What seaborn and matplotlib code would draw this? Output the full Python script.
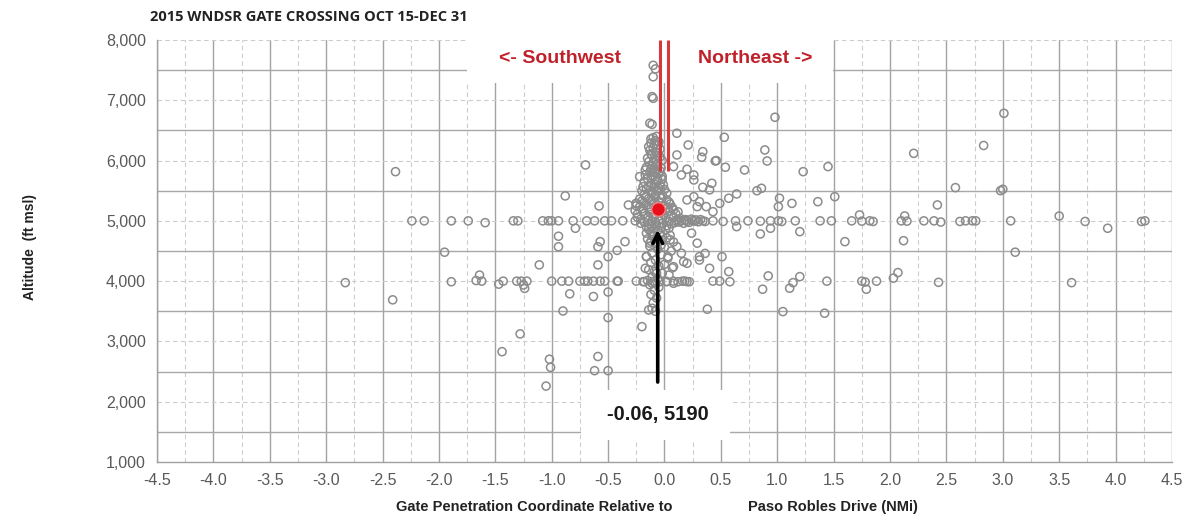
import pandas as pd
import numpy as np
import matplotlib
matplotlib.use("Agg")
import matplotlib.pyplot as plt
import seaborn as sns
from matplotlib.patches import Rectangle
from matplotlib.ticker import MultipleLocator, FuncFormatter

# gate crossings: (NMi from Paso Robles Drive, altitude ft msl)
southwest_pts = [
    (-2.83, 3975), (-2.41, 3690), (-2.385, 5816), (-2.24, 5000), (-2.13, 5000),
    (-1.95, 4480), (-1.89, 5000), (-1.89, 3990), (-1.74, 5000), (-1.67, 4010),
    (-1.64, 4100), (-1.62, 4000), (-1.59, 4970), (-1.47, 3950), (-1.44, 2830),
    (-1.43, 4000), (-1.34, 5000), (-1.31, 4000), (-1.30, 5000), (-1.28, 3125),
    (-1.27, 4000), (-1.25, 3937), (-1.24, 3880), (-1.22, 4000), (-1.11, 4270),
    (-1.08, 5000), (-1.05, 2260), (-1.03, 5000), (-1.02, 2705), (-1.01, 2570),
    (-1.00, 5000), (-1.00, 4000), (-0.94, 5000), (-0.94, 4745), (-0.94, 4570),
    (-0.91, 4000), (-0.90, 3505), (-0.88, 5414), (-0.85, 4000), (-0.84, 3790),
    (-0.81, 5000), (-0.79, 4877), (-0.75, 4000), (-0.71, 4000), (-0.70, 5927),
    (-0.69, 5000), (-0.68, 4000), (-0.63, 4000), (-0.63, 3745), (-0.62, 5000),
    (-0.62, 2515), (-0.59, 4570), (-0.59, 4270), (-0.59, 2750), (-0.58, 5247),
    (-0.57, 4655), (-0.57, 4000), (-0.53, 5000), (-0.53, 4000), (-0.50, 4405),
    (-0.50, 3820), (-0.50, 3395), (-0.50, 2515), (-0.47, 5000), (-0.42, 4510),
    (-0.42, 4000), (-0.41, 4000), (-0.37, 5000), (-0.35, 4655), (-0.32, 5264),
    (-0.26, 5000), (-0.25, 5290), (-0.25, 4000),
]

northeast_pts = [
    (0.98, 6718), (0.53, 6386), (0.21, 6259), (0.34, 6148), (0.33, 6055),
    (0.45, 5993), (0.46, 6000), (0.54, 5889), (0.20, 5856), (0.26, 5761),
    (0.89, 6176), (0.91, 5993), (0.71, 5844), (1.23, 5816), (1.45, 5900),
    (2.21, 6120), (0.42, 5623), (0.34, 5557), (0.86, 5540), (0.82, 5500),
    (0.64, 5446), (0.57, 5375), (0.49, 5290), (1.02, 5375), (1.01, 5236),
    (1.13, 5290), (1.36, 5318), (1.51, 5401), (0.26, 5401), (0.31, 5318),
    (0.37, 5236), (0.43, 5152),
    (0.43, 5000), (0.52, 4990), (0.63, 5000), (0.74, 5000), (0.85, 4995),
    (0.94, 5000), (1.01, 5000), (1.04, 4990), (1.16, 5000), (1.38, 5000),
    (1.48, 5000), (1.66, 5000), (1.75, 4995), (1.82, 5000), (1.85, 4990),
    (2.10, 5000), (2.15, 4995), (2.30, 5000), (2.39, 5000), (2.45, 4980),
    (2.62, 4990), (2.67, 5000), (2.73, 5000), (2.76, 5000), (3.07, 5000),
    (3.73, 4990), (4.23, 4990), (4.26, 5000),
    (3.50, 5080), (1.73, 5098), (2.13, 5081), (0.64, 4904), (0.94, 4877),
    (0.85, 4783), (1.20, 4821), (1.60, 4655), (2.12, 4671), (3.93, 4877),
    (3.11, 4480), (0.51, 4405), (0.36, 4460), (0.31, 4350), (0.17, 4323),
    (0.40, 4213), (0.57, 4158), (0.92, 4087), (1.20, 4075), (2.07, 4142),
    (2.03, 4050),
    (0.18, 4000), (0.22, 3990), (0.43, 4000), (0.49, 4000), (0.58, 3990),
    (1.44, 4000), (1.75, 4000), (1.78, 3985), (1.88, 4000), (2.43, 3980),
    (3.61, 3975),
    (0.87, 3866), (1.11, 3883), (1.14, 3975), (1.79, 3866), (0.38, 3534),
    (1.05, 3495), (1.42, 3468), (2.83, 6250), (3.01, 6784), (2.58, 5551),
    (2.98, 5501), (3.00, 5524), (2.42, 5264),
    (0.11, 6453), (0.11, 6093), (0.08, 5900), (0.15, 5761), (0.26, 5678),
    (0.20, 5347), (0.29, 5236), (0.40, 5514), (0.29, 4630), (0.24, 4796),
    (0.31, 4406), (0.20, 4296),
]

# the dense column just southwest of the gate
core_pts = [
    (-0.10, 7580), (-0.08, 7520), (-0.10, 7390), (-0.10, 7033), (-0.11, 7060),
    (-0.13, 6620), (-0.11, 6600),
    (-0.10, 6380), (-0.08, 6330), (-0.12, 6290), (-0.06, 6250), (-0.10, 6210),
    (-0.13, 6170), (-0.07, 6130), (-0.11, 6090), (-0.04, 6060), (-0.09, 6020),
    (-0.14, 5980), (-0.06, 5950), (-0.11, 5910), (-0.03, 5880), (-0.08, 5850),
    (-0.13, 5810), (-0.05, 5780), (-0.10, 5740), (-0.15, 5700), (-0.02, 5690),
    (-0.07, 5660), (-0.12, 5620), (-0.04, 5590), (-0.09, 5560), (-0.16, 5530),
    (0.00, 5520), (-0.06, 5490), (-0.11, 5460), (-0.18, 5430), (-0.02, 5420),
    (-0.08, 5400), (-0.14, 5370), (0.02, 5350), (-0.20, 5330), (-0.05, 5320),
    (-0.10, 5290), (0.05, 5280), (-0.16, 5260), (-0.22, 5230), (0.03, 5220),
    (-0.12, 5200), (0.08, 5180), (-0.19, 5160), (-0.02, 5150), (0.10, 5120),
    (-0.24, 5110), (-0.08, 5100), (0.06, 5080), (-0.15, 5060), (0.01, 5050),
    (-0.21, 5030), (-0.05, 5020), (0.12, 5020), (-0.11, 5000), (0.04, 4990),
    (-0.18, 4980), (0.15, 5000), (0.20, 4990), (0.25, 5005), (0.30, 4985),
    (0.34, 5000), (0.18, 5010), (0.22, 4975), (0.28, 5015), (0.09, 4970),
    (-0.02, 4960), (-0.13, 4950), (-0.07, 4930), (0.02, 4920), (-0.16, 4900),
    (-0.09, 4870), (0.01, 4850), (-0.12, 4820), (-0.04, 4790), (0.05, 4760),
    (-0.10, 4740), (-0.15, 4700), (-0.02, 4680), (0.08, 4650), (-0.08, 4620),
    (-0.13, 4580), (0.00, 4560), (-0.06, 4530), (0.06, 4500), (-0.11, 4470),
    (-0.03, 4440), (-0.16, 4410), (0.03, 4380), (-0.08, 4350), (-0.12, 4310),
    (0.00, 4280), (-0.05, 4250), (0.07, 4220), (-0.14, 4190), (-0.09, 4160),
    (-0.02, 4130), (0.04, 4100), (-0.11, 4070), (-0.06, 4040), (-0.15, 4010),
    (-0.10, 3995), (-0.04, 3990), (0.02, 3995), (0.08, 4000), (-0.18, 3990),
    (0.12, 3990), (0.16, 4000), (-0.08, 3970), (-0.13, 3940), (-0.05, 3900),
    (-0.09, 3850), (-0.12, 3780), (-0.07, 3720), (-0.10, 3640), (-0.11, 3550),
    (-0.08, 3500), (-0.14, 3522), (-0.20, 3245),
    (-0.25, 5290), (-0.19, 5567), (-0.22, 5733), (-0.17, 5844),
    (-0.16, 4796), (-0.13, 4630), (0.05, 4685), (0.11, 4573), (0.15, 4463),
    (0.03, 4406), (-0.16, 4406), (0.08, 4240), (-0.17, 4213), (-0.07, 4130),
    (-0.11, 3965), (0.02, 3992), (0.08, 3965), (0.20, 3992), (-0.19, 3992),
]

# second pass over the solid part of the column and the 5,000 ft band
core_dense_pts = [
    (-0.07, 6400), (-0.12, 6360), (-0.05, 6310), (-0.09, 6270), (-0.14, 6230),
    (-0.04, 6190), (-0.08, 6150), (-0.12, 6110), (-0.06, 6080), (-0.15, 6040),
    (-0.02, 6000), (-0.10, 5970), (-0.07, 5930), (-0.16, 5890), (-0.12, 5860),
    (-0.04, 5830), (-0.09, 5800), (-0.17, 5760), (-0.02, 5740), (-0.12, 5710),
    (-0.06, 5680), (-0.18, 5650), (-0.09, 5610), (-0.01, 5600), (-0.14, 5570),
    (-0.05, 5540), (-0.20, 5500), (-0.12, 5480), (0.02, 5460), (-0.08, 5440),
    (-0.16, 5410), (-0.03, 5380), (-0.22, 5360), (-0.11, 5340), (0.04, 5310),
    (-0.18, 5300), (-0.07, 5270), (-0.25, 5250), (0.00, 5250), (-0.14, 5230),
    (0.07, 5220), (-0.20, 5200), (-0.04, 5180), (-0.26, 5170), (0.04, 5160),
    (-0.13, 5140), (0.12, 5150), (-0.18, 5120), (-0.01, 5110), (-0.10, 5070),
    (0.08, 5060), (-0.24, 5060), (0.14, 5040), (-0.02, 5030), (0.19, 5020),
    (0.24, 5030), (0.32, 5020), (0.10, 5000), (0.27, 4995), (0.36, 4990),
    (0.13, 4980), (0.17, 4960), (-0.08, 4980), (0.06, 4950), (-0.21, 4960),
    (-0.11, 4910), (-0.03, 4890), (0.04, 4880), (-0.14, 4860), (-0.06, 4840),
    (-0.11, 4780), (0.02, 4720), (-0.07, 4700), (-0.12, 4660), (-0.03, 4600),
]

mean_x, mean_alt = -0.06, 5190
gate_x = [-0.04, 0.03]
gate_bottom = 5830

df = pd.DataFrame(southwest_pts + northeast_pts + core_pts + core_dense_pts,
                  columns=["x", "alt"])

sns.set_style("white")
plt.rcParams["font.family"] = ["Liberation Sans", "DejaVu Sans"]
plt.rcParams["axes.unicode_minus"] = False

fig = plt.figure(figsize=(12.03, 5.18), dpi=100)
ax = fig.add_axes([0.1305, 0.1081, 0.8437, 0.8147])

sns.scatterplot(data=df, x="x", y="alt", ax=ax, s=34, facecolors="none",
                edgecolor="#8c8c8c", linewidth=1.1, legend=False, zorder=2)

ax.set_xlim(-4.5, 4.5)
ax.set_ylim(1000, 8000)
ax.xaxis.set_major_locator(MultipleLocator(0.5))
ax.xaxis.set_minor_locator(MultipleLocator(0.25))
ax.yaxis.set_major_locator(MultipleLocator(1000))
ax.yaxis.set_minor_locator(MultipleLocator(500))
ax.xaxis.set_major_formatter(FuncFormatter(lambda v, p: f"{v:.1f}"))
ax.yaxis.set_major_formatter(FuncFormatter(lambda v, p: f"{v:,.0f}"))

ax.set_axisbelow(True)
ax.grid(which="major", axis="x", color="#a3a3a3", lw=1.0, ls="-")
ax.grid(which="minor", axis="x", color="#cccccc", lw=0.8, ls=(0, (4, 3)))
ax.grid(which="major", axis="y", color="#cccccc", lw=0.8, ls=(0, (4, 3)))
ax.grid(which="minor", axis="y", color="#a8a8a8", lw=1.0, ls="-")

for s in ["top", "right"]:
    ax.spines[s].set_visible(False)
for s in ["left", "bottom"]:
    ax.spines[s].set_color("#a0a0a0")
    ax.spines[s].set_linewidth(1.0)
ax.tick_params(which="major", length=5, width=1, color="#a0a0a0",
               labelsize=11.5, labelcolor="#595959", pad=3)
ax.tick_params(which="minor", length=0)
ax.set_xlabel("")
ax.set_ylabel("")

# white backgrounds of the text boxes
ax.add_patch(Rectangle((-1.75, 7290), 3.245, 800, facecolor="white",
                       edgecolor="none", zorder=0.8, clip_on=False))
ax.add_patch(Rectangle((-0.74, 1360), 1.32, 830, facecolor="white",
                       edgecolor="none", zorder=0.8))

# gate
for gx in gate_x:
    ax.plot([gx, gx], [gate_bottom, 8000], color="#d43a3a", lw=2.2,
            solid_capstyle="butt", zorder=3)

ax.text(-0.93, 7700, "<- Southwest", color="#c0202a", fontsize=14,
        fontweight="bold", ha="center", va="center", zorder=4)
ax.text(0.80, 7700, "Northeast ->", color="#c0202a", fontsize=14,
        fontweight="bold", ha="center", va="center", zorder=4)

sns.scatterplot(x=[mean_x], y=[mean_alt], ax=ax, s=95, color="#e8101a",
                edgecolor="#f08080", linewidth=1.0, legend=False, zorder=5)
ax.annotate("", xy=(mean_x, 4900), xytext=(mean_x, 2280),
            arrowprops=dict(arrowstyle="->,head_length=0.7,head_width=0.35",
                            color="black", lw=2.6), zorder=6)
ax.text(mean_x, 1790, f"{mean_x:.2f}, {mean_alt}", fontsize=14.5,
        fontweight="bold", color="#1a1a1a", ha="center", va="center", zorder=6)

fig.text(0.125, 0.967, "2015 WNDSR GATE CROSSING OCT 15-DEC 31",
         family=["Open Sans", "DejaVu Sans"], fontweight="bold", fontsize=10.5,
         color="#222222", ha="left", va="center")
fig.text(0.025, 0.523, "Altitude  (ft msl)", rotation=90, fontsize=10,
         fontweight="bold", color="#222222", ha="center", va="center")
fig.text(672 / 1203, 0.021, "Gate Penetration Coordinate Relative to",
         fontsize=10.5, fontweight="bold", color="#222222", ha="right", va="center")
fig.text(748 / 1203, 0.021, "Paso Robles Drive (NMi)",
         fontsize=10.5, fontweight="bold", color="#222222", ha="left", va="center")

fig.savefig("out.png", dpi=100)
